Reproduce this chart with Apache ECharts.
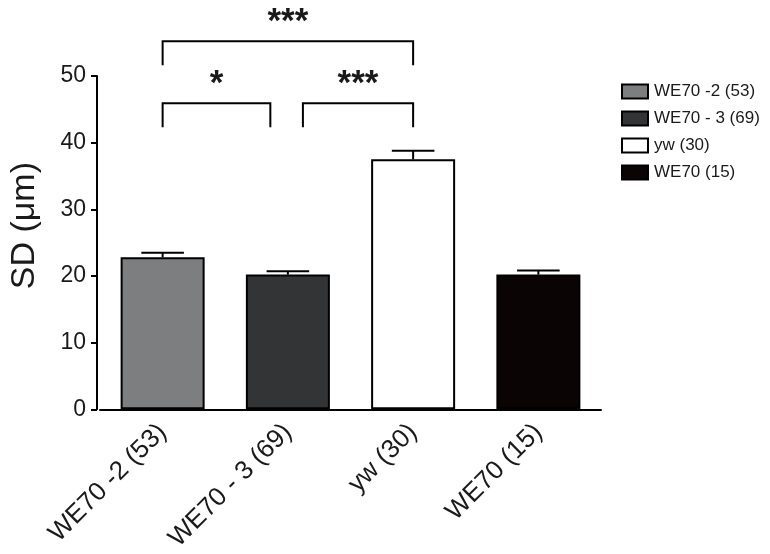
<!DOCTYPE html>
<html>
<head>
<meta charset="utf-8">
<script src="https://cdn.jsdelivr.net/npm/echarts@6/dist/echarts.min.js"></script>
<style>html,body{margin:0;padding:0;background:#fff}#c{width:770px;height:554px}</style>
</head>
<body>
<div id="c"></div>
<script>
// ---- data ----
var categories = ['WE70 -2 (53)', 'WE70 - 3 (69)', 'yw (30)', 'WE70 (15)'];
var means = [22.8, 20.2, 37.5, 20.2];
var errors = [0.7, 0.5, 1.3, 0.6];
var yTicks = [0, 10, 20, 30, 40, 50];
var comparisons = [[0, 2], [0, 1], [1, 2]];
var significance = ['***', '*', '***'];

// ---- style ----
var colors = ['#7d7e80', '#333436', '#ffffff', '#0b0404'];
var FONT = 'Liberation Sans, Arial, sans-serif';
var TXT = '#1a1a1a';

var chart = echarts.init(document.getElementById('c'), null, {renderer: 'canvas'});

var series = categories.map(function (name, i) {
  return {
    name: name,
    type: 'bar',
    barWidth: 84,
    barGap: '-100%',
    data: categories.map(function (c, j) { return j === i ? means[j] : '-'; }),
    itemStyle: {color: colors[i], borderColor: '#000', borderWidth: 2},
    emphasis: {disabled: true},
    z: 2
  };
});

// error bars (upper whisker only)
series.push({
  type: 'custom',
  name: 'err',
  clip: false,
  z: 3,
  data: means.map(function (m, i) { return [i, m, m + errors[i]]; }),
  renderItem: function (params, api) {
    var x = api.value(0);
    var p0 = api.coord([x, api.value(1)]);
    var p1 = api.coord([x, api.value(2)]);
    var half = api.size([1, 0])[0] * 0.17;
    return {
      type: 'group',
      children: [
        {type: 'line', shape: {x1: p0[0], y1: p0[1], x2: p1[0], y2: p1[1]}, style: {stroke: '#000', lineWidth: 2}},
        {type: 'line', shape: {x1: p1[0] - half, y1: p1[1], x2: p1[0] + half, y2: p1[1]}, style: {stroke: '#000', lineWidth: 2}}
      ]
    };
  }
});

// significance brackets
var bracketLevels = [{top: 55.2, bottom: 51.6}, {top: 45.9, bottom: 42.3}];
series.push({
  type: 'custom',
  name: 'sig',
  clip: false,
  z: 4,
  data: comparisons.map(function (c, k) { return [c[0], c[1], k === 0 ? 0 : 1]; }),
  renderItem: function (params, api) {
    var a = api.value(0), b = api.value(1), lvl = bracketLevels[api.value(2)];
    var band = api.size([1, 0])[0];
    var xa = api.coord([a, 0])[0];
    var xb = api.coord([b, 0])[0];
    if (api.value(2) === 1) {
      if (a === 1) xa += band * 0.12;
      if (b === 1) xb -= band * 0.14;
    }
    var yt = api.coord([0, lvl.top])[1];
    var yb = api.coord([0, lvl.bottom])[1];
    return {
      type: 'group',
      children: [
        {type: 'polyline', shape: {points: [[xa, yb], [xa, yt], [xb, yt], [xb, yb]]}, style: {stroke: '#000', lineWidth: 2, fill: null}},
        {type: 'text', x: (xa + xb) / 2, y: yt - 19, style: {text: significance[params.dataIndex], font: 'bold 35px ' + FONT, fill: TXT, align: 'center', verticalAlign: 'middle'}}
      ]
    };
  }
});

chart.setOption({
  animation: false,
  backgroundColor: '#fff',
  grid: {left: 100, right: 169, top: 76, bottom: 144, containLabel: false},
  legend: {
    orient: 'vertical',
    left: 616,
    top: 78,
    itemWidth: 26,
    itemHeight: 14,
    itemGap: 10,
    icon: 'rect',
    data: categories,
    itemStyle: {borderColor: '#000', borderWidth: 2},
    textStyle: {fontFamily: FONT, fontSize: 17, color: TXT, padding: [0, 0, 0, 1]},
    selectedMode: false
  },
  xAxis: {
    type: 'category',
    data: categories,
    axisLine: {lineStyle: {color: '#000', width: 2}},
    axisTick: {alignWithLabel: true, length: 6, lineStyle: {color: '#000', width: 2}},
    axisLabel: {rotate: 45, margin: 19, fontFamily: FONT, fontSize: 26, color: TXT, interval: 0}
  },
  yAxis: {
    type: 'value',
    offset: 3,
    min: yTicks[0],
    max: yTicks[yTicks.length - 1],
    interval: yTicks[1] - yTicks[0],
    name: 'SD (\u03bcm)',
    nameLocation: 'middle',
    nameGap: 55,
    nameTextStyle: {fontFamily: FONT, fontSize: 34, color: TXT, padding: [0, 0, 0, 34]},
    splitLine: {show: false},
    axisLine: {show: true, lineStyle: {color: '#000', width: 2}},
    axisTick: {show: true, length: 6, lineStyle: {color: '#000', width: 2}},
    axisLabel: {margin: 11, fontFamily: FONT, fontSize: 23, color: TXT}
  },
  series: series
});
</script>
</body>
</html>
